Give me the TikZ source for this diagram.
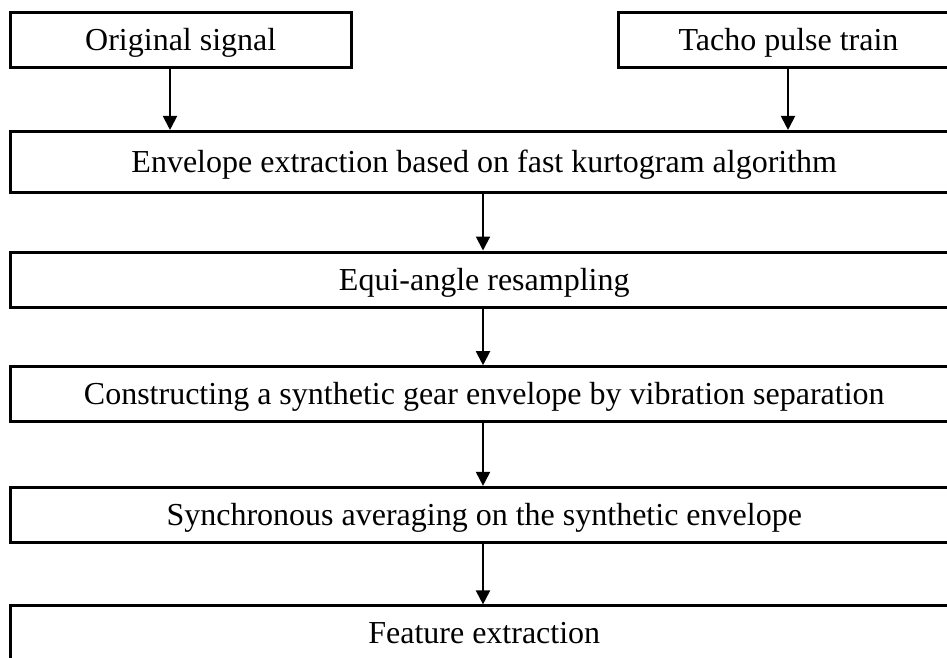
\documentclass[tikz,border=0pt]{standalone}
\usepackage{fontspec}
\setmainfont{Liberation Serif}
\usetikzlibrary{arrows.meta}
\tikzset{
  box/.style={draw=black, line width=3pt, fill=white, inner sep=0pt,
    font=\fontsize{32}{38}\selectfont, text height=21pt, text depth=0pt},
  flow/.style={draw=black, line width=2pt, -{Triangle[width=14pt,length=14pt]}},
}
\begin{document}
\begin{tikzpicture}[x=1pt, y=-1pt]
\useasboundingbox (0,0) rectangle (947,657);
\clip (0,0) rectangle (947,657);
\node[box, minimum width=340.5pt, minimum height=54.5pt] (orig) at (180.75,39.9) {Original signal};
\node[box, minimum width=341pt, minimum height=55.5pt] (tacho) at (788.5,40.2) {Tacho pulse train};
\node[box, minimum width=947.5pt, minimum height=61.5pt] (env) at (484.25,162.2) {Envelope extraction based on fast kurtogram algorithm};
\node[box, minimum width=947.5pt, minimum height=55pt] (equi) at (484.25,279.5) {Equi-angle resampling};
\node[box, minimum width=947.5pt, minimum height=55pt] (synth) at (484.25,394.2) {Constructing a synthetic gear envelope by vibration separation};
\node[box, minimum width=947.5pt, minimum height=55pt] (sync) at (484.25,514.9) {Synchronous averaging on the synthetic envelope};
\node[box, minimum width=947.5pt, minimum height=55pt] (feat) at (484.25,633.4) {Feature extraction};
\coordinate (xl) at (170,0);
\coordinate (xr) at (788,0);
\coordinate (xc) at (483,0);
\draw[flow] (orig.south -| xl) -- (env.north -| xl);
\draw[flow] (tacho.south -| xr) -- (env.north -| xr);
\draw[flow] (env.south -| xc) -- (equi.north -| xc);
\draw[flow] (equi.south -| xc) -- (synth.north -| xc);
\draw[flow] (synth.south -| xc) -- (sync.north -| xc);
\draw[flow] (sync.south -| xc) -- (feat.north -| xc);
\end{tikzpicture}
\end{document}
